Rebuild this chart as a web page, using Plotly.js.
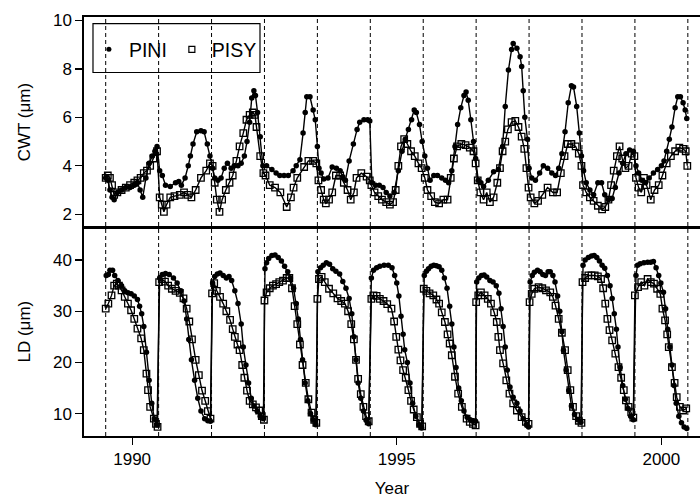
<!DOCTYPE html>
<html><head><meta charset="utf-8">
<script src="https://cdn.plot.ly/plotly-3.0.1.min.js"></script>
<style>html,body{margin:0;padding:0;background:#fff;overflow:hidden}</style>
</head><body><div id="chart" style="width:700px;height:498px"></div>
<script>
// ---- data (decimal year, value) ----
const ringBoundaries = [1989.5,1990.5,1991.5,1992.5,1993.5,1994.5,1995.5,1996.5,1997.5,1998.5,1999.5,2000.5];
const xTickYears = [1990,1995,2000];
const cwtTicks = [2,4,6,8,10];
const ldTicks = [10,20,30,40];
const seriesNames = ['PINI','PISY'];

const cwtPini = [
[1989.50,3.5],[1989.54,3.4],[1989.58,3.0],[1989.62,2.7],[1989.66,2.6],[1989.72,2.9],[1989.80,3.0],[1989.88,3.1],[1989.96,3.1],[1990.04,3.2],[1990.10,3.3],[1990.15,3.0],[1990.20,2.7],[1990.26,3.5],[1990.32,4.1],[1990.38,4.4],[1990.43,4.6],[1990.47,4.8],
[1990.52,3.8],[1990.57,3.6],[1990.63,3.2],[1990.72,3.15],[1990.82,3.3],[1990.88,3.35],[1990.93,3.2],[1991.00,3.5],[1991.06,4.0],[1991.10,4.4],[1991.15,4.9],[1991.22,5.4],[1991.30,5.45],[1991.36,5.4],[1991.42,4.9],[1991.47,4.4],
[1991.52,3.9],[1991.56,3.5],[1991.62,3.4],[1991.68,3.5],[1991.74,3.9],[1991.80,4.1],[1991.87,3.9],[1991.93,4.0],[1992.00,4.0],[1992.06,4.1],[1992.12,4.4],[1992.17,5.0],[1992.22,5.8],[1992.26,6.8],[1992.30,7.1],[1992.33,6.9],[1992.37,6.2],[1992.42,5.2],[1992.47,4.0],
[1992.54,4.0],[1992.64,3.85],[1992.72,3.7],[1992.79,3.6],[1992.87,3.6],[1992.95,3.6],[1993.04,3.8],[1993.10,4.0],[1993.17,4.25],[1993.23,5.35],[1993.27,6.2],[1993.30,6.85],[1993.36,6.85],[1993.42,6.3],[1993.46,5.9],[1993.50,4.8],
[1993.53,3.9],[1993.57,3.7],[1993.62,3.45],[1993.70,3.5],[1993.78,3.95],[1993.86,3.9],[1993.93,3.8],[1993.98,3.55],[1994.03,3.4],[1994.10,4.2],[1994.18,4.9],[1994.25,5.5],[1994.30,5.8],[1994.38,5.9],[1994.45,5.9],[1994.49,5.85],
[1994.53,3.3],[1994.60,3.2],[1994.67,3.2],[1994.74,3.1],[1994.80,2.9],[1994.87,2.75],[1994.95,2.9],[1995.03,3.8],[1995.10,4.6],[1995.16,5.1],[1995.22,5.5],[1995.28,5.9],[1995.33,6.3],[1995.37,6.2],[1995.43,5.7],[1995.48,5.0],
[1995.53,4.4],[1995.58,3.9],[1995.63,3.4],[1995.70,3.6],[1995.77,3.6],[1995.85,3.5],[1995.92,3.4],[1995.98,3.3],[1996.04,3.8],[1996.10,4.8],[1996.15,5.7],[1996.21,6.4],[1996.27,6.9],[1996.31,7.05],[1996.35,6.7],[1996.40,5.9],[1996.45,5.0],[1996.49,4.3],
[1996.54,3.4],[1996.59,3.3],[1996.64,3.15],[1996.73,3.4],[1996.83,3.75],[1996.92,3.85],[1997.00,4.8],[1997.05,6.45],[1997.11,7.95],[1997.17,8.8],[1997.20,9.05],[1997.27,8.85],[1997.33,8.5],[1997.36,8.1],[1997.39,7.1],[1997.42,6.0],[1997.47,5.1],[1997.50,3.9],
[1997.55,3.5],[1997.62,3.4],[1997.70,3.7],[1997.77,4.0],[1997.85,3.9],[1997.93,3.7],[1998.00,3.6],[1998.06,3.9],[1998.12,4.5],[1998.18,5.4],[1998.24,6.6],[1998.30,7.3],[1998.34,7.25],[1998.40,6.45],[1998.45,5.35],[1998.49,4.4],
[1998.53,3.8],[1998.58,3.3],[1998.65,3.0],[1998.72,2.8],[1998.80,3.3],[1998.87,3.3],[1998.93,2.8],[1999.00,2.6],[1999.07,2.65],[1999.13,3.1],[1999.20,3.7],[1999.27,4.1],[1999.33,4.5],[1999.40,4.65],[1999.47,4.6],
[1999.52,4.0],[1999.57,3.7],[1999.63,3.4],[1999.70,3.3],[1999.77,3.5],[1999.85,3.7],[1999.93,3.85],[2000.00,4.0],[2000.05,4.2],[2000.10,4.6],[2000.15,5.1],[2000.20,5.6],[2000.26,6.4],[2000.31,6.85],[2000.36,6.85],[2000.41,6.6],[2000.45,6.3],[2000.48,5.95]
];

const cwtPisy = [
[1989.50,3.5],[1989.54,3.6],[1989.58,3.5],[1989.62,3.2],[1989.66,2.8],[1989.72,2.9],[1989.80,3.0],[1989.88,3.1],[1989.96,3.2],[1990.04,3.3],[1990.10,3.4],[1990.16,3.5],[1990.22,3.7],[1990.28,3.8],[1990.34,4.0],[1990.40,4.3],[1990.47,4.6],
[1990.52,2.7],[1990.56,2.4],[1990.60,2.1],[1990.65,2.4],[1990.72,2.7],[1990.80,2.75],[1990.90,2.8],[1990.98,2.9],[1991.05,2.8],[1991.12,2.7],[1991.20,3.0],[1991.30,3.5],[1991.40,3.8],[1991.47,4.1],
[1991.52,4.0],[1991.56,3.3],[1991.60,2.6],[1991.65,2.1],[1991.70,2.6],[1991.77,3.0],[1991.84,3.3],[1991.90,3.6],[1991.97,4.2],[1992.03,4.8],[1992.10,5.35],[1992.16,5.9],[1992.22,6.1],[1992.28,6.2],[1992.32,6.1],[1992.35,5.6],[1992.42,4.4],[1992.48,3.7],
[1992.52,3.6],[1992.60,3.2],[1992.70,3.1],[1992.80,2.9],[1992.92,2.3],[1993.00,2.7],[1993.05,3.1],[1993.12,3.5],[1993.25,3.95],[1993.33,4.2],[1993.42,4.2],[1993.48,4.1],
[1993.52,3.4],[1993.57,3.0],[1993.62,2.6],[1993.66,2.45],[1993.72,2.6],[1993.78,2.9],[1993.85,3.6],[1993.93,3.6],[1994.00,3.3],[1994.07,3.0],[1994.13,2.6],[1994.19,2.9],[1994.24,3.5],[1994.33,3.7],[1994.43,3.55],[1994.49,3.4],
[1994.52,3.2],[1994.58,2.9],[1994.65,2.75],[1994.72,2.6],[1994.80,2.5],[1994.87,2.4],[1994.93,2.5],[1994.98,3.0],[1995.03,4.0],[1995.08,4.8],[1995.14,5.1],[1995.20,4.9],[1995.27,4.6],[1995.34,4.4],[1995.41,4.1],[1995.47,3.9],
[1995.53,3.5],[1995.58,3.0],[1995.65,2.75],[1995.72,2.5],[1995.80,2.45],[1995.88,2.6],[1995.96,2.6],[1996.02,3.5],[1996.08,4.3],[1996.14,4.8],[1996.22,4.9],[1996.30,4.85],[1996.38,4.75],[1996.45,4.6],[1996.49,4.1],
[1996.53,3.4],[1996.58,2.9],[1996.64,2.6],[1996.70,2.9],[1996.76,2.5],[1996.83,2.7],[1996.90,3.3],[1996.95,3.9],[1997.00,4.6],[1997.05,5.0],[1997.10,5.5],[1997.17,5.8],[1997.24,5.85],[1997.30,5.6],[1997.36,5.2],[1997.41,4.7],[1997.45,3.9],[1997.49,3.1],
[1997.53,2.7],[1997.60,2.45],[1997.67,2.55],[1997.75,2.8],[1997.85,3.1],[1997.95,2.9],[1998.03,2.9],[1998.10,3.7],[1998.17,4.4],[1998.23,4.9],[1998.30,4.9],[1998.38,4.8],[1998.44,4.5],[1998.49,4.0],
[1998.52,3.2],[1998.58,2.9],[1998.65,2.7],[1998.72,2.55],[1998.80,2.35],[1998.88,2.2],[1998.94,2.3],[1999.00,2.6],[1999.05,3.2],[1999.10,3.8],[1999.16,4.4],[1999.21,4.8],[1999.26,4.3],[1999.32,3.9],[1999.38,4.0],[1999.44,4.5],[1999.49,4.4],
[1999.52,3.5],[1999.57,3.1],[1999.62,2.9],[1999.67,3.5],[1999.72,3.2],[1999.80,2.6],[1999.87,3.0],[1999.95,3.2],[2000.02,3.6],[2000.10,4.1],[2000.18,4.4],[2000.26,4.6],[2000.34,4.75],[2000.41,4.7],[2000.46,4.6],[2000.49,4.0]
];

const ldPini = [
[1989.51,37.0],[1989.55,37.2],[1989.58,38.0],[1989.63,38.0],[1989.67,37.0],[1989.73,36.0],[1989.80,35.0],[1989.86,34.0],[1989.92,33.6],[1989.98,33.4],[1990.04,33.0],[1990.10,32.3],[1990.14,31.0],[1990.18,29.5],[1990.22,27.0],[1990.27,22.0],[1990.32,16.5],[1990.37,12.0],[1990.42,9.0],[1990.47,7.8],
[1990.52,36.5],[1990.57,37.2],[1990.63,37.4],[1990.70,37.2],[1990.78,36.5],[1990.85,35.5],[1990.92,34.0],[1990.98,32.0],[1991.03,28.5],[1991.07,24.5],[1991.12,20.5],[1991.18,16.5],[1991.24,13.0],[1991.30,10.5],[1991.37,9.0],[1991.43,8.6],[1991.48,8.5],
[1991.52,35.5],[1991.56,36.8],[1991.61,37.3],[1991.66,37.5],[1991.72,37.0],[1991.78,36.5],[1991.83,36.8],[1991.88,36.0],[1991.94,34.0],[1992.00,31.5],[1992.06,27.5],[1992.10,23.0],[1992.15,19.5],[1992.20,16.0],[1992.25,13.0],[1992.30,11.5],[1992.36,10.5],[1992.42,9.5],[1992.48,9.0],
[1992.51,38.3],[1992.54,39.5],[1992.58,40.3],[1992.64,40.9],[1992.70,41.0],[1992.76,40.5],[1992.82,39.8],[1992.88,38.8],[1992.94,37.7],[1992.99,36.5],[1993.05,34.5],[1993.10,31.5],[1993.14,28.5],[1993.18,24.5],[1993.22,20.5],[1993.27,16.0],[1993.32,12.5],[1993.37,10.0],[1993.42,8.8],[1993.47,7.8],
[1993.51,37.7],[1993.56,38.5],[1993.61,39.0],[1993.67,39.5],[1993.73,39.2],[1993.79,38.3],[1993.85,37.8],[1993.92,37.3],[1993.98,35.8],[1994.04,34.5],[1994.10,32.5],[1994.15,29.5],[1994.19,25.0],[1994.23,20.5],[1994.27,16.0],[1994.32,13.0],[1994.37,10.5],[1994.42,8.7],[1994.47,8.0],
[1994.52,36.5],[1994.56,38.0],[1994.62,38.5],[1994.68,38.8],[1994.76,39.0],[1994.84,39.0],[1994.91,38.5],[1994.96,37.0],[1995.00,35.5],[1995.04,33.0],[1995.08,29.0],[1995.12,25.5],[1995.15,22.5],[1995.20,20.0],[1995.25,16.0],[1995.30,12.0],[1995.36,9.5],[1995.42,7.8],[1995.47,7.2],
[1995.52,37.0],[1995.56,37.8],[1995.60,38.3],[1995.65,38.8],[1995.70,39.0],[1995.75,38.9],[1995.80,38.7],[1995.85,38.0],[1995.90,36.5],[1995.95,34.5],[1996.00,31.0],[1996.04,27.5],[1996.08,23.0],[1996.12,19.0],[1996.17,15.0],[1996.22,12.5],[1996.27,10.5],[1996.33,9.3],[1996.39,8.8],[1996.45,8.6],[1996.49,8.5],
[1996.51,35.7],[1996.55,36.5],[1996.60,37.0],[1996.65,37.1],[1996.70,36.7],[1996.76,36.0],[1996.82,35.7],[1996.88,35.0],[1996.93,33.5],[1996.97,30.5],[1997.01,27.0],[1997.05,23.0],[1997.09,18.5],[1997.14,15.2],[1997.20,13.2],[1997.27,12.0],[1997.33,10.5],[1997.39,9.0],[1997.45,7.8],[1997.49,7.4],
[1997.52,35.7],[1997.56,37.0],[1997.60,37.6],[1997.66,38.0],[1997.71,37.7],[1997.76,37.2],[1997.81,37.0],[1997.86,37.7],[1997.90,37.7],[1997.95,37.0],[1997.99,35.7],[1998.04,33.0],[1998.08,30.0],[1998.12,26.0],[1998.15,22.4],[1998.20,18.5],[1998.25,14.5],[1998.30,11.5],[1998.36,9.8],[1998.42,8.8],[1998.48,8.3],
[1998.52,39.0],[1998.56,40.0],[1998.62,40.5],[1998.68,40.8],[1998.73,40.9],[1998.78,40.5],[1998.83,39.8],[1998.88,39.0],[1998.93,38.4],[1998.98,37.0],[1999.03,35.0],[1999.07,32.5],[1999.11,29.5],[1999.15,26.5],[1999.18,23.0],[1999.22,19.0],[1999.27,15.5],[1999.32,12.8],[1999.37,11.0],[1999.42,9.5],[1999.47,8.8],
[1999.52,37.0],[1999.55,39.0],[1999.60,39.3],[1999.67,39.5],[1999.74,39.6],[1999.80,39.6],[1999.85,39.7],[1999.90,38.5],[1999.95,37.0],[1999.99,35.5],[2000.04,33.7],[2000.08,30.5],[2000.12,26.5],[2000.16,23.0],[2000.20,19.5],[2000.24,15.5],[2000.28,12.0],[2000.33,9.5],[2000.38,8.2],[2000.43,7.4],[2000.48,7.1]
];

const ldPisy = [
[1989.50,30.5],[1989.55,31.5],[1989.61,33.1],[1989.66,35.0],[1989.71,35.4],[1989.75,35.0],[1989.80,34.1],[1989.86,32.8],[1989.92,31.5],[1989.98,30.2],[1990.04,28.5],[1990.10,26.6],[1990.17,24.7],[1990.22,22.4],[1990.27,17.8],[1990.30,14.6],[1990.34,11.3],[1990.41,9.0],[1990.45,8.0],[1990.48,7.4],
[1990.51,35.7],[1990.56,36.3],[1990.62,35.8],[1990.68,35.0],[1990.75,34.4],[1990.82,34.0],[1990.90,33.6],[1990.97,32.5],[1991.03,30.5],[1991.08,28.0],[1991.13,24.5],[1991.20,20.5],[1991.26,17.5],[1991.32,14.5],[1991.38,12.5],[1991.43,10.5],[1991.48,9.0],
[1991.51,33.5],[1991.55,35.5],[1991.60,34.0],[1991.66,32.8],[1991.72,31.5],[1991.78,30.0],[1991.85,28.3],[1991.90,26.5],[1991.94,25.0],[1991.99,23.5],[1992.03,22.4],[1992.08,19.5],[1992.12,17.0],[1992.17,14.5],[1992.22,12.5],[1992.28,11.8],[1992.34,11.2],[1992.40,10.6],[1992.45,9.5],[1992.49,8.8],
[1992.50,32.1],[1992.54,33.7],[1992.60,34.5],[1992.66,35.0],[1992.72,35.3],[1992.78,35.7],[1992.85,36.0],[1992.92,36.5],[1992.97,36.5],[1993.02,34.5],[1993.07,31.0],[1993.12,27.5],[1993.17,23.5],[1993.22,19.5],[1993.28,16.0],[1993.33,12.8],[1993.39,10.2],[1993.44,8.8],[1993.48,8.2],
[1993.50,32.4],[1993.53,36.3],[1993.58,36.7],[1993.64,35.7],[1993.72,34.4],[1993.80,33.5],[1993.88,32.5],[1993.95,32.0],[1994.02,31.5],[1994.08,30.0],[1994.14,27.5],[1994.19,24.5],[1994.23,20.5],[1994.27,16.8],[1994.32,13.8],[1994.37,11.3],[1994.42,9.5],[1994.47,8.5],
[1994.52,32.4],[1994.56,33.1],[1994.62,33.0],[1994.68,32.4],[1994.75,32.0],[1994.82,31.4],[1994.90,30.5],[1994.95,28.0],[1994.99,25.0],[1995.03,22.5],[1995.07,20.4],[1995.12,18.5],[1995.17,17.0],[1995.22,14.6],[1995.27,12.5],[1995.32,10.8],[1995.38,9.3],[1995.44,8.0],[1995.48,7.5],
[1995.51,34.4],[1995.56,34.0],[1995.62,33.5],[1995.69,33.1],[1995.75,32.3],[1995.80,31.5],[1995.85,29.8],[1995.91,27.9],[1995.96,25.5],[1996.00,23.7],[1996.04,21.4],[1996.10,17.2],[1996.16,13.9],[1996.23,11.3],[1996.32,9.0],[1996.38,8.4],[1996.44,8.0],[1996.49,7.7],
[1996.50,31.8],[1996.54,33.1],[1996.59,33.7],[1996.66,33.1],[1996.72,32.4],[1996.78,31.5],[1996.84,29.8],[1996.89,27.9],[1996.92,25.0],[1996.95,22.4],[1997.01,19.8],[1997.07,16.5],[1997.13,13.9],[1997.20,12.0],[1997.27,10.6],[1997.36,9.3],[1997.44,8.4],[1997.49,8.0],
[1997.51,31.8],[1997.55,33.4],[1997.60,34.4],[1997.68,34.7],[1997.75,34.5],[1997.82,34.1],[1997.90,33.7],[1997.95,32.8],[1998.00,31.1],[1998.06,28.5],[1998.12,25.8],[1998.18,22.4],[1998.23,18.5],[1998.28,14.6],[1998.33,11.3],[1998.39,9.5],[1998.44,8.6],[1998.49,8.2],
[1998.51,35.7],[1998.56,36.5],[1998.62,37.0],[1998.68,37.0],[1998.74,37.0],[1998.80,36.8],[1998.86,36.3],[1998.90,34.5],[1998.94,31.5],[1998.98,28.5],[1999.02,26.3],[1999.07,24.3],[1999.13,21.7],[1999.19,19.1],[1999.24,17.0],[1999.29,14.6],[1999.33,12.6],[1999.38,11.3],[1999.43,10.3],[1999.47,9.2],
[1999.50,33.1],[1999.56,34.7],[1999.62,35.7],[1999.68,35.0],[1999.74,36.3],[1999.80,35.7],[1999.86,35.4],[1999.92,34.4],[1999.98,33.4],[2000.02,30.5],[2000.07,28.2],[2000.11,25.5],[2000.14,23.0],[2000.20,19.1],[2000.25,16.0],[2000.29,13.2],[2000.35,11.3],[2000.41,10.6],[2000.47,11.0]
];

// ---- drawing ----
const FONT = '"Liberation Sans", Arial, Helvetica, sans-serif';
const px = a => a.map(p => p[0]);
const py = a => a.map(p => p[1]);
const piniMarker = {symbol:'circle', size:5.5, color:'#000'};
const pisyMarker = {symbol:'square-open', size:6.5, color:'#000', line:{width:1.3, color:'#000'}};
const lineStyle = {color:'#000', width:1.4};

const traces = [
  {x:px(cwtPini), y:py(cwtPini), xaxis:'x2', yaxis:'y2', mode:'lines+markers', line:lineStyle, marker:piniMarker, showlegend:false, name:seriesNames[0]},
  {x:px(cwtPisy), y:py(cwtPisy), xaxis:'x2', yaxis:'y2', mode:'lines+markers', line:lineStyle, marker:pisyMarker, showlegend:false, name:seriesNames[1]},
  {x:px(ldPini), y:py(ldPini), xaxis:'x', yaxis:'y', mode:'lines+markers', line:lineStyle, marker:piniMarker, showlegend:false, name:seriesNames[0]},
  {x:px(ldPisy), y:py(ldPisy), xaxis:'x', yaxis:'y', mode:'lines+markers', line:lineStyle, marker:pisyMarker, showlegend:false, name:seriesNames[1]},
  {x:[null], y:[null], xaxis:'x2', yaxis:'y2', mode:'markers', marker:{symbol:'circle', size:5, color:'#000'}, name:seriesNames[0], showlegend:true},
  {x:[null], y:[null], xaxis:'x2', yaxis:'y2', mode:'markers', marker:{symbol:'square-open', size:6, color:'#000', line:{width:1.2, color:'#000'}}, name:seriesNames[1], showlegend:true}
];

const shapes = ringBoundaries.map(b => ({
  type:'line', xref:'x', yref:'paper', x0:b, x1:b, y0:0, y1:1, layer:'below',
  line:{color:'#000', width:1, dash:'4px,3px'}
}));
// legend frame
shapes.push({type:'rect', xref:'paper', yref:'paper', x0:0.0146, x1:0.2857, y0:0.8676, y1:0.984,
  line:{color:'#000', width:1.2}, fillcolor:'rgba(0,0,0,0)', layer:'above'});

const axisCommon = {showgrid:false, zeroline:false, showline:true, linecolor:'#000', linewidth:1.6,
  ticks:'outside', ticklen:7, tickwidth:1.3, tickcolor:'#000', tickfont:{size:17, color:'#000'}};

const layout = {
  width:700, height:498,
  margin:{l:84, r:0, t:17, b:62},
  paper_bgcolor:'#fff', plot_bgcolor:'#fff',
  font:{family:FONT, size:17, color:'#000'},
  showlegend:true,
  legend:{orientation:'h', x:0.008, xanchor:'left', y:0.922, yanchor:'middle',
    font:{size:19.5, color:'#000'}, bgcolor:'rgba(0,0,0,0)', borderwidth:0},
  xaxis:Object.assign({}, axisCommon, {domain:[0,1], anchor:'y', range:[1989.09,2000.73],
    tickvals:xTickYears, ticktext:xTickYears.map(String), mirror:true,
    title:{text:'Year', font:{size:17}, standoff:14}}),
  xaxis2:Object.assign({}, axisCommon, {domain:[0,1], anchor:'y2', matches:'x',
    showticklabels:false, ticks:'', mirror:true}),
  yaxis:Object.assign({}, axisCommon, {domain:[0,0.498], range:[5.62,46.4], tickvals:ldTicks,
    title:{text:'LD (μm)', font:{size:17}, standoff:18}}),
  yaxis2:Object.assign({}, axisCommon, {domain:[0.498,1], range:[1.46,10.14], tickvals:cwtTicks,
    title:{text:'CWT (μm)', font:{size:17}, standoff:18}}),
  shapes:shapes
};

Plotly.newPlot('chart', traces, layout, {displayModeBar:false, staticPlot:true});
</script>
</body></html>
